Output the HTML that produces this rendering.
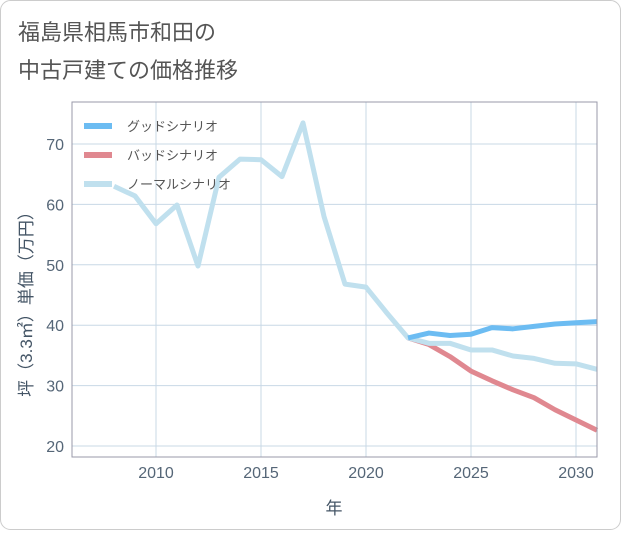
<!DOCTYPE html>
<html><head><meta charset="utf-8"><style>
body{margin:0;background:#fff;}
.wrap{position:relative;width:621px;height:530px;font-family:"Liberation Sans","Noto Sans CJK JP",sans-serif;}
</style></head><body>
<div class="wrap">
<svg width="621" height="530">
<rect x="0.5" y="0.5" width="620" height="529" rx="10" fill="#fff" stroke="#ccc"/>
<text x="18" y="40" font-size="22" fill="#555" font-family="Liberation Sans, Noto Sans CJK JP, sans-serif">福島県相馬市和田の</text>
<text x="18" y="78" font-size="22" fill="#555" font-family="Liberation Sans, Noto Sans CJK JP, sans-serif">中古戸建ての価格推移</text>
<g id="grid"></g>
<g id="series"></g>
<rect x="72" y="102" width="525" height="355" fill="none" stroke="#99a"/>
<g id="ticks"></g>
<text x="334" y="514" font-size="17" fill="#445566" text-anchor="middle" font-family="Liberation Sans, Noto Sans CJK JP, sans-serif">年</text>
<text transform="translate(32,300) rotate(-90)" font-size="17" fill="#445566" text-anchor="middle" font-family="Liberation Sans, Noto Sans CJK JP, sans-serif">坪（3.3㎡）単価（万円）</text>
<g id="legend"></g>
</svg>
</div>
<script>
const years=[2008,2009,2010,2011,2012,2013,2014,2015,2016,2017,2018,2019,2020,2021,2022,2023,2024,2025,2026,2027,2028,2029,2030,2031];
const normalVals=[63,61.4,56.8,59.9,49.8,64.5,67.5,67.4,64.6,73.5,58,46.8,46.3,42,37.9,37,37,35.9,35.9,34.9,34.5,33.7,33.6,32.7];
const forecastYears=[2022,2023,2024,2025,2026,2027,2028,2029,2030,2031];
const goodVals=[37.9,38.7,38.3,38.5,39.6,39.4,39.8,40.2,40.4,40.6];
const badVals=[37.9,36.8,34.8,32.4,30.8,29.3,28.0,26.0,24.3,22.6];
const xTicks=[2010,2015,2020,2025,2030];
const yTicks=[20,30,40,50,60,70];
const NS="http://www.w3.org/2000/svg";
const X=y=>72+(y-2006)*21;
const Y=v=>144+(70-v)*6.04;
function mk(t,a,p){const e=document.createElementNS(NS,t);for(const k in a)e.setAttribute(k,a[k]);p.appendChild(e);return e;}
const grid=document.getElementById('grid'),ticks=document.getElementById('ticks');
xTicks.forEach(t=>{const l=mk('line',{x1:X(t),x2:X(t),y1:102,y2:457,stroke:'#c8d8e6'},grid);


const tx=mk('text',{x:X(t),y:478,'font-size':16,fill:'#556677','text-anchor':'middle'},ticks);tx.textContent=t;

});
yTicks.forEach(t=>{const l=mk('line',{x1:72,x2:597,y1:Y(t),y2:Y(t),stroke:'#c8d8e6'},grid);


const tx=mk('text',{x:64,y:Y(t)+6,'font-size':16,fill:'#556677','text-anchor':'end'},ticks);tx.textContent=t;

});
const ser=document.getElementById('series');
function line(xs,vs,c,name){const p=mk('polyline',{points:xs.map((y,i)=>X(y)+','+Y(vs[i])).join(' '),fill:'none',stroke:c,'stroke-width':5,'stroke-linejoin':'round'},ser);

}
line(forecastYears,badVals,'#e08890','bad-scenario-line');
line(years,normalVals,'#c0e0ee','normal-scenario-line');
line(forecastYears,goodVals,'#6cbcf2','good-scenario-line');
const lg=document.getElementById('legend');
[['グッドシナリオ','#6cbcf2'],['バッドシナリオ','#e08890'],['ノーマルシナリオ','#c0e0ee']].forEach((d,i)=>{
const y=126+i*29;
const l=mk('line',{x1:84,x2:112,y1:y,y2:y,stroke:d[1],'stroke-width':6},lg);


const t=mk('text',{x:127,y:y+5,'font-size':13,fill:'#555'},lg);t.textContent=d[0];

});
</script>
</body></html>
